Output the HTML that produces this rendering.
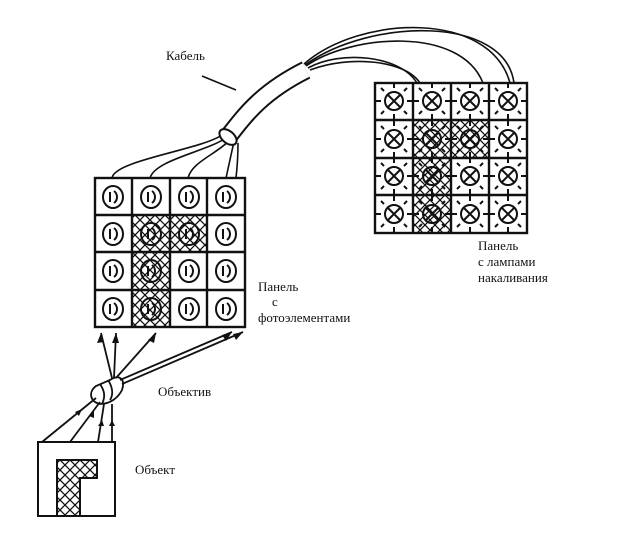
<!DOCTYPE html>
<html><head><meta charset="utf-8"><style>
body{margin:0;background:#fff}
svg{display:block}
text{font-family:"Liberation Serif","DejaVu Serif",serif;font-size:13px;fill:#111}
</style></head><body>
<svg width="642" height="542" viewBox="0 0 642 542">
<defs>
<pattern id="h" width="10" height="10" patternUnits="userSpaceOnUse">
<path d="M0 0L10 10M10 0L0 10" stroke="#111" stroke-width="1.3"/>
</pattern>
</defs>
<g fill="none" stroke="#111" stroke-width="1.6">
<path d="M112 178 C115 160 200 150 222 135"/>
<path d="M150 178 C155 160 205 152 226 138"/>
<path d="M188 178 C192 162 215 155 230 140"/>
<path d="M226 178 C230 160 232 150 234 142"/>
<path d="M236 178 C238 160 238 150 238 143"/>
<path d="M308 68 C340 50 400 55 417 83"/>
<path d="M310 70 C350 55 405 60 420 83"/>
<path d="M306 66 C350 35 460 25 483 83"/>
<path d="M304 64 C360 15 490 10 510 83"/>
<path d="M305 65 C370 18 505 15 514 83"/>
<path d="M202 76 L236 90"/>
</g>
<!-- cable tube -->
<path d="M228 137 C245 115 262 92 306 70" fill="none" stroke="#111" stroke-width="19"/>
<path d="M228 137 C245 115 262 92 306 70" fill="none" stroke="#fff" stroke-width="15"/>
<ellipse cx="228" cy="137" rx="10" ry="6" transform="rotate(40 228 137)" fill="#fff" stroke="#111" stroke-width="2"/>
<g>
<rect x="132" y="215" width="38" height="112" fill="url(#h)"/>
<rect x="170" y="215" width="37" height="37" fill="url(#h)"/>
<rect x="413" y="120" width="38" height="113" fill="url(#h)"/>
<rect x="451" y="120" width="38" height="38" fill="url(#h)"/>
</g>
<g fill="none" stroke="#111" stroke-width="2.4">
<rect x="95" y="178" width="150" height="149"/>
<path d="M132 178V327M170 178V327M207 178V327M95 215H245M95 252H245M95 290H245"/>
<rect x="375" y="83" width="152" height="150"/>
<path d="M413 83V233M451 83V233M489 83V233M375 120H527M375 158H527M375 195H527"/>
</g>
<g fill="none" stroke="#111" stroke-width="2">
<g id="r1">
<ellipse cx="113" cy="197" rx="10" ry="11"/><path d="M110 192v10M114 191c4 3 4 9 0 12"/>
<ellipse cx="151" cy="197" rx="10" ry="11"/><path d="M148 192v10M152 191c4 3 4 9 0 12"/>
<ellipse cx="189" cy="197" rx="10" ry="11"/><path d="M186 192v10M190 191c4 3 4 9 0 12"/>
<ellipse cx="226" cy="197" rx="10" ry="11"/><path d="M223 192v10M227 191c4 3 4 9 0 12"/>
</g>
<use href="#r1" y="37"/><use href="#r1" y="74"/><use href="#r1" y="112"/>
</g>
<g fill="none" stroke="#111" stroke-width="2">
<g id="l1">
<circle cx="394" cy="101" r="9"/><path d="M387 94l14 14M401 94l-14 14M394 88v-5M394 114v5M381 101h-5M407 101h5M384 91l-3-3M404 111l3 3M404 91l3-3M384 111l-3 3"/>
</g>
<use href="#l1" x="38"/><use href="#l1" x="76"/><use href="#l1" x="114"/>
<use href="#l1" y="38"/><use href="#l1" x="38" y="38"/><use href="#l1" x="76" y="38"/><use href="#l1" x="114" y="38"/>
<use href="#l1" y="75"/><use href="#l1" x="38" y="75"/><use href="#l1" x="76" y="75"/><use href="#l1" x="114" y="75"/>
<use href="#l1" y="113"/><use href="#l1" x="38" y="113"/><use href="#l1" x="76" y="113"/><use href="#l1" x="114" y="113"/>
</g>
<g fill="none" stroke="#111" stroke-width="1.8">
<path d="M110 380 C118 374 126 378 122 390 C118 398 110 404 100 404 C90 402 88 392 96 386 Z" fill="#fff"/>
<path d="M100 384 C104 390 106 396 102 404"/>
<path d="M108 380 C112 386 114 394 110 400"/>
<path d="M112 378 L101 333M114 378 L116 333M116 378 L156 333M120 380 L232 332M122 384 L243 332"/>
<path d="M42 442 L96 398M70 442 L100 402M98 442 L104 404M112 442 L112 404"/>
<rect x="38" y="442" width="77" height="74" stroke-width="2"/>
<path d="M57 515 V460 H97 V478 H80 V515" fill="url(#h)" stroke-width="2"/>
</g>
<g fill="#111">
<path d="M101 333l-4 10 7-1z M116 333l-4 10h7z M156 333l-8 7 6 3z M232 332l-10 3 4 6z M243 332l-10 2 3 6z"/>
<path d="M82 409l-7 3 4 4z M94 411l-5 5 5 2z M102 420l-4 6h6z M112 420l-3 6h6z"/>
</g>
<text x="166" y="60">Кабель</text>
<text x="258" y="291">Панель</text>
<text x="272" y="306">с</text>
<text x="258" y="322">фотоэлементами</text>
<text x="478" y="250">Панель</text>
<text x="478" y="266">с лампами</text>
<text x="478" y="282">накаливания</text>
<text x="158" y="396">Объектив</text>
<text x="135" y="474">Объект</text>
</svg>
</body></html>
